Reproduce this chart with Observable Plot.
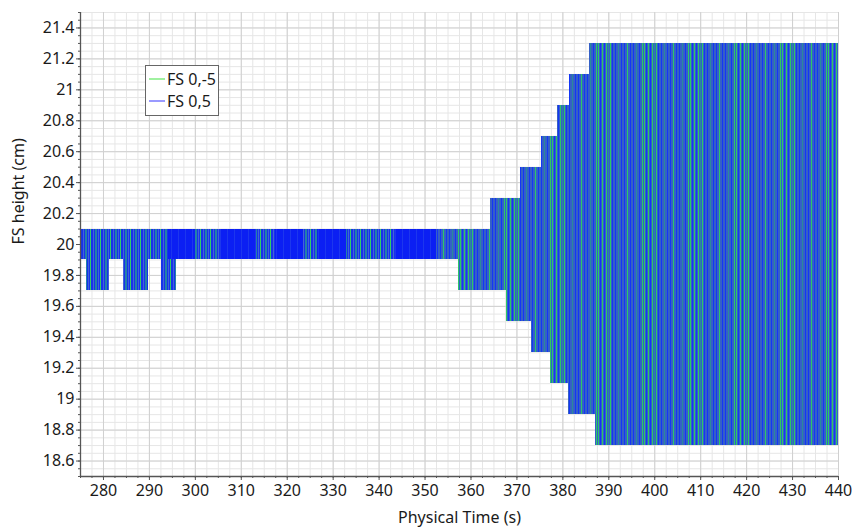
<!DOCTYPE html>
<html><head><meta charset="utf-8">
<script src="https://cdn.jsdelivr.net/npm/d3@7"></script>
<script src="https://cdn.jsdelivr.net/npm/@observablehq/plot@0.6"></script>
<style>
body{margin:0;background:#fff;font-family:"Noto Sans",sans-serif;color:#1a1a1a;}
#wrap{position:relative;width:855px;height:528px;}
.legend{position:absolute;left:145px;top:65px;border:1px solid #666;background:#fff;padding:2px 2px 3px 3px;font-size:16px;line-height:22px;}
.legend .row{white-space:nowrap;display:flex;align-items:center;height:22px;}
.legend svg{display:block;margin-right:2px;}
</style></head><body><div id="wrap"></div>
<script>
// ---- data ----
const seriesNames = ["FS 0,-5", "FS 0,5"];
const xTicks = [280, 290, 300, 310, 320, 330, 340, 350, 360, 370, 380, 390, 400, 410, 420, 430, 440];
const yTicks = [18.6, 18.8, 19, 19.2, 19.4, 19.6, 19.8, 20, 20.2, 20.4, 20.6, 20.8, 21, 21.2, 21.4];
// upper envelope of the oscillation (step start times and levels)
const upperT = [275, 364.2, 370.8, 375.3, 378.8, 381.5, 385.8, 440];
const upperH = [20.1, 20.3, 20.5, 20.7, 20.9, 21.1, 21.3];
// lower envelope
const lowerT = [275, 357.2, 367.7, 373.1, 377.3, 381.2, 387.2, 440];
const lowerH = [19.9, 19.7, 19.5, 19.3, 19.1, 18.9, 18.7];
const midLevel = 20.0;
// early dips to 19.7
const dipStart = [276.3, 284.4, 292.7];
const dipEnd = [281.3, 289.8, 295.9];
const dipH = [19.7, 19.7, 19.7];
// early phase (band 19.9..20.1) and intervals where the two series coincide (blue on top)
const earlyStart = [275], earlyEnd = [352.4], earlyLow = [19.9], earlyHigh = [20.1];
const solidStart = [294.2, 305.5, 317.5, 326.5, 343.5];
const solidEnd = [300.1, 313.4, 323.5, 333.0, 352.4];

// ---- build tables ----
const upRects = upperH.map((h, i) => ({x1: upperT[i], x2: upperT[i + 1], y1: midLevel, y2: h}));
const lowRects = lowerH.map((h, i) => ({x1: lowerT[i], x2: lowerT[i + 1], y1: h, y2: midLevel}));
const earlyRects = earlyStart.map((s, i) => ({x1: s, x2: earlyEnd[i], y1: earlyLow[i], y2: earlyHigh[i]}))
  .concat(dipStart.map((s, i) => ({x1: s, x2: dipEnd[i], y1: dipH[i], y2: earlyLow[0]})));
const solidRects = solidStart.map((s, i) => ({x1: s, x2: solidEnd[i], y1: earlyLow[0], y2: earlyHigh[0]}));

const minorX = d3.range(275, 440.01, 2.5);
const minorY = d3.range(18.5, 21.501, 0.05).map(v => +v.toFixed(2));
const fmt = d => String(+d.toFixed(1));
const rectOpts = {x1: "x1", x2: "x2", y1: "y1", y2: "y2", shapeRendering: "crispEdges"};

const svg = Plot.plot({
  width: 855, height: 528,
  marginLeft: 80, marginRight: 17, marginTop: 12, marginBottom: 52,
  style: {fontFamily: "Noto Sans", fontSize: "16px", color: "#1a1a1a", background: "#fff"},
  x: {domain: [275, 440]},
  y: {domain: [18.5, 21.5]},
  marks: [
    Plot.gridX(minorX, {stroke: "#e6e6e6", strokeOpacity: 1}),
    Plot.gridY(minorY, {stroke: "#e6e6e6", strokeOpacity: 1}),
    Plot.gridX(xTicks, {stroke: "#d0d0d0", strokeOpacity: 1}),
    Plot.gridY(yTicks, {stroke: "#d0d0d0", strokeOpacity: 1}),
    Plot.rect(upRects, {...rectOpts, fill: "url(#mixPat)"}),
    Plot.rect(lowRects, {...rectOpts, fill: "url(#mixPat)"}),
    Plot.rect(earlyRects, {...rectOpts, fill: "url(#earlyPat)"}),
    Plot.rect(solidRects, {...rectOpts, fill: "url(#solidPat)"}),
    Plot.axisX(minorX, {tickSize: 2, tickFormat: () => "", stroke: "#555"}),
    Plot.axisY(minorY, {tickSize: 2, tickFormat: () => "", stroke: "#555"}),
    Plot.axisX(xTicks, {tickSize: 4, tickPadding: 4, tickFormat: fmt, fontSize: 16, label: null, stroke: "#555"}),
    Plot.axisY(yTicks, {tickSize: 4, tickPadding: 2, tickFormat: fmt, fontSize: 16, label: null, stroke: "#555"}),
    Plot.ruleX([275], {stroke: "#555", strokeWidth: 1.3}),
    Plot.ruleY([18.5], {stroke: "#555", strokeWidth: 1.3}),
    Plot.text(["Physical Time (s)"], {frameAnchor: "bottom", dy: 41, text: d => d, lineAnchor: "middle", fontSize: 16, fill: "#1a1a1a"}),
    Plot.text(["FS height (cm)"], {frameAnchor: "left", dx: -62, text: d => d, rotate: -90, lineAnchor: "middle", fontSize: 16, fill: "#1a1a1a"})
  ]
});

// stripe patterns imitating the dense oscillating lines
const defs = d3.select(svg).insert("defs", ":first-child");
function addPattern(id, w, base, stripes) {
  const p = defs.append("pattern").attr("id", id).attr("patternUnits", "userSpaceOnUse")
    .attr("width", w).attr("height", 8);
  p.append("rect").attr("width", w).attr("height", 8).attr("fill", base);
  for (const [x, sw, c] of stripes) p.append("rect").attr("x", x).attr("width", sw).attr("height", 8).attr("fill", c);
}
const B = "#1436f5", G = "#2cc866", T = "#2a8a9a";
addPattern("mixPat", 46, "#3560c6", [
  [0, 1, G], [2, 1, B], [4, 1, G], [6, 1, B], [8, 1, G], [10, 1, T], [12, 1, G], [14, 1, B],
  [17, 1, B], [20, 1, T], [23, 1, B], [26, 1, B], [29, 1, G], [32, 1, B], [35, 1, B],
  [38, 1, T], [41, 1, B], [44, 1, G]
]);
addPattern("earlyPat", 10, "#1733ea", [
  [0, 1, "#2fcf66"], [3, 1, "#4262d8"], [5.5, 1, "#2fcf66"], [8, 1, "#4262d8"]
]);
addPattern("solidPat", 7, "#0b1ff3", [[3, 1, "#1c36ee"]]);

const wrap = document.getElementById("wrap");
wrap.appendChild(svg);

// legend
const legendColors = ["#80ec80", "#7878ff"];
const leg = document.createElement("div");
leg.className = "legend";
seriesNames.forEach((name, i) => {
  const row = document.createElement("div");
  row.className = "row";
  const sw = d3.create("svg").attr("width", 16).attr("height", 4);
  sw.append("line").attr("x1", 0).attr("x2", 16).attr("y1", 2).attr("y2", 2)
    .attr("stroke", legendColors[i]).attr("stroke-width", 1.5);
  row.appendChild(sw.node());
  row.appendChild(document.createTextNode(name));
  leg.appendChild(row);
});
wrap.appendChild(leg);
</script></body></html>
